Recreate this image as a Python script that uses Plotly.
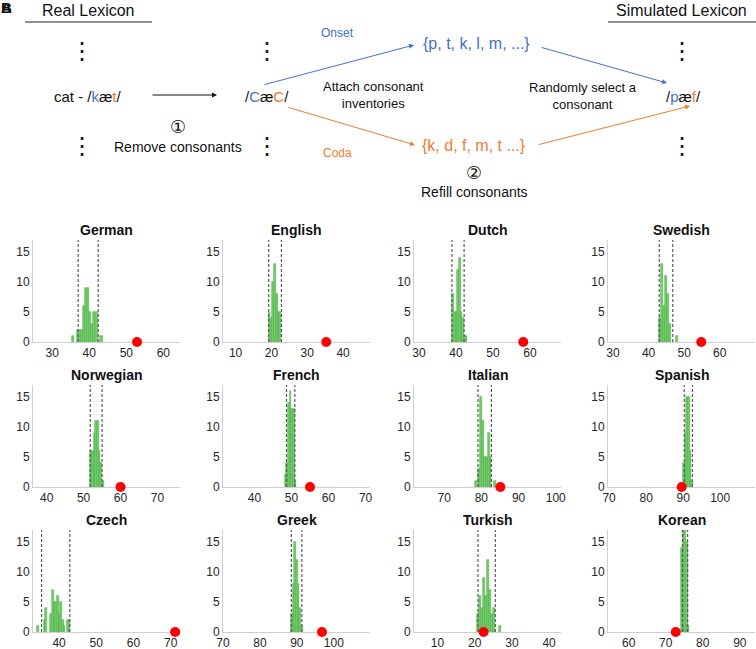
import plotly.graph_objects as go

W, H = 756, 649

LANGUAGES = ["German", "English", "Dutch", "Swedish",
             "Norwegian", "French", "Italian", "Spanish",
             "Czech", "Greek", "Turkish", "Korean"]

# observed value in the real lexicon (red dot)
OBSERVED = [52.9, 35.3, 58.2, 54.8, 60.0, 55.0, 85.1, 89.6, 71.2, 96.8, 22.4, 72.7]
# 95% interval of the simulated lexicons (dashed lines)
CI_LOW = [37.0, 19.25, 38.9, 43.0, 51.8, 48.65, 79.1, 90.3, 35.3, 88.5, 20.9, 74.5]
CI_HIGH = [42.4, 22.8, 42.2, 46.8, 55.0, 50.9, 82.7, 92.5, 42.9, 91.35, 25.55, 75.9]

# histogram of simulated lexicons: bin centres and counts
german_bins = [35.7, 37.0, 37.55, 38.1, 38.65, 39.2, 39.75, 40.3, 40.85, 41.4, 41.95, 43.3]
german_counts = [1, 2, 2, 2, 6, 9, 9, 5, 3, 5, 5, 1]
english_bins = [19.45, 19.95, 20.45, 20.95, 21.45, 21.95, 22.45]
english_counts = [5, 4, 10, 13, 8, 5, 5]
dutch_bins = [39.2, 39.65, 40.1, 40.55, 41.0, 41.45, 41.9, 42.35, 42.8]
dutch_counts = [8, 5, 5, 12, 14, 5, 4, 1, 1]
swedish_bins = [43.3, 43.85, 44.4, 44.95, 45.5, 46.05, 48.0]
swedish_counts = [4, 13, 6, 11, 8, 3, 1]
norwegian_bins = [52.05, 52.5, 52.95, 53.4, 53.85, 54.3, 54.75, 55.2]
norwegian_counts = [6, 6, 9, 11, 11, 6, 4, 1]
french_bins = [48.4, 48.85, 49.3, 49.75, 50.2, 50.65, 51.1]
french_counts = [2, 4, 14, 16, 13, 13, 1]
italian_bins = [78.6, 79.4, 79.95, 80.45, 80.95, 81.45, 81.95, 82.45, 83.6]
italian_counts = [1, 3, 15, 11, 5, 5, 9, 5, 1]
spanish_bins = [90.2, 90.65, 91.1, 91.55, 92.0, 92.45]
spanish_counts = [4, 9, 15, 15, 6, 1]
czech_bins = [34.4, 36.1, 36.55, 37.9, 38.35, 38.8, 39.25, 39.7, 40.15, 40.6, 41.05, 41.5, 42.4, 42.85]
czech_counts = [1, 2, 4, 3, 7, 5, 5, 6, 3, 5, 2, 1, 2, 2]
greek_bins = [88.65, 89.1, 89.55, 90.0, 90.45, 90.9, 91.35]
greek_counts = [3, 8, 15, 12, 8, 4, 1]
turkish_bins = [20.9, 21.45, 22.0, 22.55, 23.1, 23.65, 24.2, 24.75, 25.3, 26.7]
turkish_counts = [3, 6, 4, 9, 6, 12, 7, 3, 4, 1]
korean_bins = [74.3, 74.75, 75.2, 75.65, 76.05]
korean_counts = [14, 17, 17, 15, 1]

BINS = [german_bins, english_bins, dutch_bins, swedish_bins,
        norwegian_bins, french_bins, italian_bins, spanish_bins,
        czech_bins, greek_bins, turkish_bins, korean_bins]
COUNTS = [german_counts, english_counts, dutch_counts, swedish_counts,
          norwegian_counts, french_counts, italian_counts, spanish_counts,
          czech_counts, greek_counts, turkish_counts, korean_counts]

X_TICKS = [[30, 40, 50, 60], [10, 20, 30, 40], [30, 40, 50, 60], [30, 40, 50, 60],
           [40, 50, 60, 70], [40, 50, 60, 70], [70, 80, 90, 100], [70, 80, 90, 100],
           [40, 50, 60, 70], [70, 80, 90, 100], [10, 20, 30, 40], [60, 70, 80, 90]]
Y_TICKS = [0, 5, 10, 15]

# axis ranges and bar widths (layout)
X_RANGES = [[24.8, 64.5], [6.5, 47.5], [28.65, 68.4], [28.6, 69.9],
            [36.3, 76.1], [31.5, 71.2], [61.9, 101.4], [69.7, 109.4],
            [33.0, 72.5], [70.0, 109.8], [3.7, 43.2], [54.4, 94.1]]
BAR_W = [0.55, 0.5, 0.45, 0.55, 0.45, 0.45, 0.5, 0.45, 0.45, 0.45, 0.55, 0.45]

COL_X = [(33, 180), (223, 370), (414, 561), (608, 755)]
ROW_Y = [(240, 342), (385, 487), (530, 632)]

FONT = "Liberation Sans Narrow, Liberation Sans, Arial, sans-serif"
DFONT = "Liberation Sans, Arial, sans-serif"
BLUE = "#4472C4"
ORANGE = "#ED7D31"


def fx(px):
    return px / W


def fy(py):
    return 1 - py / H


fig = go.Figure()
annotations = []
shapes = []
layout = {}

for i, lang in enumerate(LANGUAGES):
    r, c = divmod(i, 4)
    k = i + 1
    xs = "x" if k == 1 else f"x{k}"
    ys = "y" if k == 1 else f"y{k}"
    x0, x1 = COL_X[c]
    y0, y1 = ROW_Y[r]

    fig.add_trace(go.Bar(
        x=BINS[i], y=COUNTS[i], width=BAR_W[i], xaxis=xs, yaxis=ys,
        marker=dict(color="#72cf69", line=dict(color="#4fae4a", width=0.6)),
        showlegend=False,
    ))
    fig.add_trace(go.Scatter(
        x=[CI_LOW[i], CI_LOW[i], None, CI_HIGH[i], CI_HIGH[i]],
        y=[0, 17, None, 0, 17], xaxis=xs, yaxis=ys, mode="lines",
        line=dict(color="#5a5a5a", width=1.2, dash="3px,2px"),
        showlegend=False,
    ))
    fig.add_trace(go.Scatter(
        x=[OBSERVED[i]], y=[0], xaxis=xs, yaxis=ys, mode="markers",
        marker=dict(color="#ff0000", size=10), cliponaxis=False,
        showlegend=False,
    ))

    xname = "xaxis" if k == 1 else f"xaxis{k}"
    yname = "yaxis" if k == 1 else f"yaxis{k}"
    layout[xname] = dict(
        domain=[fx(x0), fx(x1)], range=X_RANGES[i], tickvals=X_TICKS[i],
        anchor=ys, showline=True, linecolor="#cfcfcf", linewidth=1,
        ticks="", showgrid=False, zeroline=False, automargin=False,
        layer="below traces",
        tickfont=dict(family=FONT, size=12, color="#262626"),
    )
    layout[yname] = dict(
        domain=[fy(y1), fy(y0)], range=[0, 17], tickvals=Y_TICKS,
        anchor=xs, showline=True, linecolor="#cfcfcf", linewidth=1,
        ticks="", showgrid=False, zeroline=False, automargin=False,
        layer="below traces",
        tickfont=dict(family=FONT, size=12, color="#262626"),
    )
    annotations.append(dict(
        x=fx((x0 + x1) / 2), y=fy(y0 - 10), xref="paper", yref="paper",
        xanchor="center", yanchor="middle",
        text=f"<b>{lang}</b>", showarrow=False,
        font=dict(family=FONT, size=14, color="#111111"),
    ))


def txt(px, py, s, size=14, color="#111111", family=DFONT):
    annotations.append(dict(
        x=fx(px), y=fy(py), xref="paper", yref="paper", text=s,
        xanchor="center", yanchor="middle",
        showarrow=False, font=dict(family=family, size=size, color=color),
    ))


def arrow(tx, ty, hx, hy, color):
    annotations.append(dict(
        x=fx(hx), y=fy(hy), xref="paper", yref="paper", text="",
        ax=tx - hx, ay=ty - hy, showarrow=True, arrowhead=2,
        arrowsize=1, arrowwidth=1, arrowcolor=color,
    ))


# panel label
txt(6, 8, "<b>A</b>", size=15)
txt(6, 8, "<b>B</b>", size=15)

# headers
txt(88, 10, "Real Lexicon", size=16)
txt(681, 10, "Simulated Lexicon", size=16)
for a, b in [(25, 152), (608, 756)]:
    shapes.append(dict(type="line", xref="paper", yref="paper",
                       x0=fx(a), x1=fx(b), y0=fy(22), y1=fy(22),
                       line=dict(color="#6b6b6b", width=1.5)))

# vertical ellipses
for ex in (82, 267, 682):
    for ey in (51, 146):
        txt(ex, ey, "⋮", size=24, family="DejaVu Sans")

txt(88, 96, f'cat - /<span style="color:{BLUE}">k</span>æ'
            f'<span style="color:{ORANGE}">t</span>/', size=15)
arrow(151, 95, 217, 95, "#111111")
txt(267, 96, f'/<span style="color:{BLUE}">C</span>æ'
             f'<span style="color:{ORANGE}">C</span>/', size=15)
txt(178, 126, "①", size=18, family="DejaVu Sans")
txt(178, 147, "Remove consonants", size=14)

arrow(263, 85, 414, 45, BLUE)
arrow(287, 107, 415, 145, ORANGE)
txt(337, 33, "Onset", size=12, color=BLUE)
txt(337, 153, "Coda", size=12, color=ORANGE)
txt(373, 95, "Attach consonant<br>inventories", size=13)

txt(476, 43, "{p, t, k, l, m, ...}", size=16, color=BLUE)
txt(474, 145, "{k, d, f, m, t ...}", size=16, color=ORANGE)
txt(474, 172, "②", size=18, family="DejaVu Sans")
txt(474, 192, "Refill consonants", size=14)

arrow(540, 47, 667, 83, BLUE)
arrow(537, 145, 690, 106, ORANGE)
txt(583, 96, "Randomly select a<br>consonant", size=13)
txt(683, 97, f'/<span style="color:{BLUE}">p</span>æ'
             f'<span style="color:{ORANGE}">f</span>/', size=15)

fig.update_layout(
    template="none",
    width=W, height=H, margin=dict(l=0, r=0, t=0, b=0, autoexpand=False),
    paper_bgcolor="white", plot_bgcolor="white",
    bargap=0, showlegend=False,
    annotations=annotations, shapes=shapes, **layout,
)

# the page body has a default 8px margin; remove it so the figure fills the window
fig.write_html("out.html", config={"displayModeBar": False},
               post_script="document.body.style.margin = '0';")
